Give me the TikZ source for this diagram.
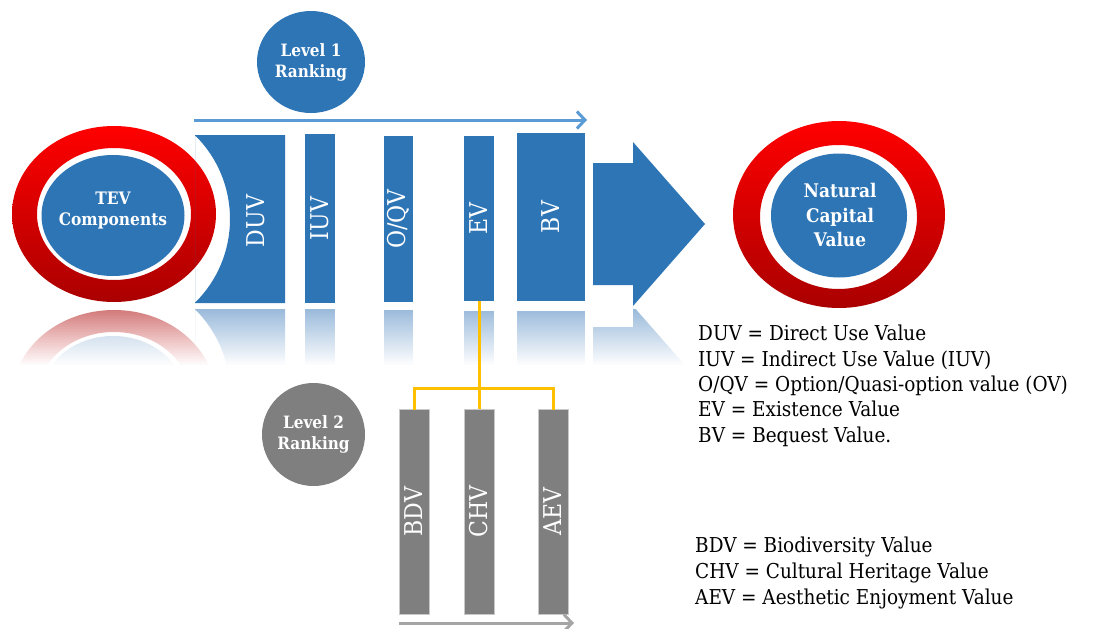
\documentclass[tikz,border=0pt]{standalone}
\usepackage{fontspec}
\setmainfont{DejaVu Serif}[FakeStretch=0.9]
\usetikzlibrary{arrows.meta,shapes.geometric}

\definecolor{tevblue}{RGB}{46,117,182}
\definecolor{paleblue}{RGB}{150,184,218}
\definecolor{lineblue}{RGB}{91,155,213}
\definecolor{ringred}{RGB}{255,0,0}
\definecolor{ringdark}{RGB}{170,0,0}
\definecolor{bargray}{RGB}{127,127,127}
\definecolor{baredge}{RGB}{200,200,200}
\definecolor{linkgold}{RGB}{255,192,0}
\definecolor{arrowgray}{RGB}{165,165,165}

\tikzset{
  topbar/.style={fill=tevblue, inner sep=0pt},
  lowbar/.style={fill=bargray, draw=baredge, line width=0.8pt, inner sep=0pt,
                 minimum width=30pt, minimum height=205pt},
  bartext/.style={text=white, font=\fontsize{24.5}{24.5}\selectfont, rotate=90, inner sep=0pt},
  ringtext/.style={text=white, font=\bfseries\fontsize{17.2}{21}\selectfont, align=center, inner sep=0pt},
  rankdisc/.style={ellipse, inner sep=0pt, text=white, align=center,
                   font=\bfseries\fontsize{17}{21}\selectfont},
  legendline/.style={anchor=base west, inner sep=0pt, font=\fontsize{20.5}{25}\selectfont},
  goldlink/.style={linkgold, line width=3pt},
}

\begin{document}
\begin{tikzpicture}[x=1pt, y=-1pt]
\useasboundingbox[fill=white] (0,0) rectangle (1106,629);

% ---------- mirrored shapes below the main row ----------
\begin{scope}
  \clip (0,309) rectangle (700,368);
  \shade[top color=ringdark!55!white, bottom color=ringred!45!white, even odd rule]
    (114,398) ellipse [x radius=102, y radius=88]
    (114,398) ellipse [x radius=77, y radius=66];
  \fill[paleblue!80!white] (113,396.5) ellipse [x radius=71.5, y radius=60.5];
  \begin{scope}
    \clip (195,309) rectangle (285,400);
    \fill[paleblue, even odd rule] (195,309) rectangle (285,400)
      (114,393) ellipse [x radius=116, y radius=117];
  \end{scope}
  \fill[paleblue] (305,309) rectangle (335,400);
  \fill[paleblue] (384,310) rectangle (413,400);
  \fill[paleblue] (464,311) rectangle (494,400);
  \fill[paleblue] (517,311) rectangle (585,400);
  \fill[paleblue] (593,449) -- (633,449) -- (633,470) -- (705,388)
    -- (633,306) -- (633,327) -- (593,327) -- cycle;
\end{scope}
% fade the mirrored shapes out, strip by strip
\foreach \i in {0,...,28}
  \fill[white, opacity={0.05+0.95*\i/28}] (0,309+2*\i) rectangle (702,311+2*\i);
\fill[white] (0,365) rectangle (702,374);

% ---------- TEV components ring ----------
\shade[top color=ringred, bottom color=ringdark, even odd rule]
  (114,214) ellipse [x radius=102, y radius=88]
  (114,214) ellipse [x radius=77, y radius=66];
\fill[tevblue] (113,215.5) ellipse [x radius=71.5, y radius=60.5];
\node[ringtext] (tev) at (113,211) {TEV\\Components};

% ---------- level 1 components ----------
\begin{scope}
  \clip (195,135) rectangle (285,303);
  \fill[tevblue, even odd rule] (195,135) rectangle (285,303)
    (114,219) ellipse [x radius=116, y radius=117];
\end{scope}
\node[bartext] (duv) at (256,221) {DUV};

\node[topbar, minimum width=30pt, minimum height=169pt] (iuv) at (320,218.5) {};
\node[topbar, minimum width=29pt, minimum height=166pt] (oqv) at (398.5,219) {};
\node[topbar, minimum width=30pt, minimum height=165pt] (ev)  at (479,218.5) {};
\node[topbar, minimum width=68pt, minimum height=168pt] (bv)  at (551,217) {};
\node[bartext] at (iuv) {IUV};
\node[bartext] at (oqv) {O/QV};
\node[bartext] at (ev) {EV};
\node[bartext] at (bv) {BV};

% big block arrow towards the result
\fill[tevblue] (593,163) -- (633,163) -- (633,142) -- (705,224)
  -- (633,306) -- (633,285) -- (593,285) -- cycle;

% level 1 ranking
\node[rankdisc, fill=tevblue, minimum width=108pt, minimum height=102pt] (lvl1) at (311,62)
  {Level 1\\Ranking};
\coordinate (r1a) at (194,120);
\coordinate (r1b) at (587,120);
\draw[lineblue, line width=3pt, -{Straight Barb[length=8pt, width=17pt]}] (r1a) -- (r1b);

% ---------- natural capital value ring ----------
\shade[top color=ringred, bottom color=ringdark, even odd rule]
  (839,214.5) ellipse [x radius=106, y radius=93.5]
  (838.5,217) ellipse [x radius=78.5, y radius=72];
\fill[tevblue] (839,215.5) ellipse [x radius=68, y radius=62];
\node[ringtext, font=\bfseries\fontsize{18.8}{24.5}\selectfont] (ncv) at (840,215)
  {Natural\\Capital\\Value};

% ---------- level 2 components ----------
\node[lowbar] (bdv) at (414,511.5) {};
\node[lowbar] (chv) at (479,511.5) {};
\node[lowbar] (aev) at (553,511.5) {};
\node[bartext] at (bdv) {BDV};
\node[bartext] at (chv) {CHV};
\node[bartext] at (aev) {AEV};

\coordinate (fork) at (479,388);
\draw[goldlink] (ev.south) -- (fork);
\draw[goldlink] (fork) -- (chv.north);
\draw[goldlink, line cap=rect] (fork) -| (bdv.north);
\draw[goldlink, line cap=rect] (fork) -| (aev.north);

\node[rankdisc, fill=bargray, minimum width=103pt, minimum height=103pt] (lvl2) at (313.5,434.5)
  {Level 2\\Ranking};
\coordinate (r2a) at (399,623);
\coordinate (r2b) at (574,623);
\draw[arrowgray, line width=3pt, -{Straight Barb[length=8pt, width=17pt]}] (r2a) -- (r2b);

% ---------- legends ----------
\node[legendline] (l1) at (698,340.5) {DUV = Direct Use Value};
\node[legendline] (l2) at (698,366.5) {IUV = Indirect Use Value (IUV)};
\node[legendline] (l3) at (698,391.5) {O/QV = Option/Quasi-option value (OV)};
\node[legendline] (l4) at (698,416.5) {EV = Existence Value};
\node[legendline] (l5) at (698,442.5) {BV = Bequest Value.};

\node[legendline] (m1) at (695,552.5) {BDV = Biodiversity Value};
\node[legendline] (m2) at (695,578.5) {CHV = Cultural Heritage Value};
\node[legendline] (m3) at (695,604.5) {AEV = Aesthetic Enjoyment Value};
\end{tikzpicture}
\end{document}
